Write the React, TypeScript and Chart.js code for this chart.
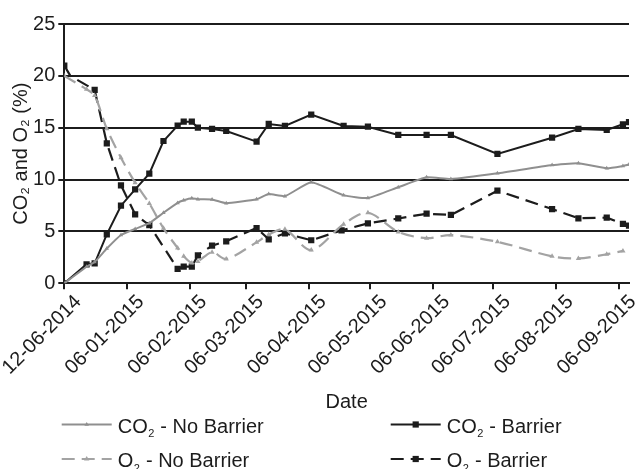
import React, { useEffect, useRef } from 'react';
import { Chart, registerables } from 'chart.js';

Chart.register(...registerables);

// ---- data (x = days since 12-06-2014 start tick) ----
const tickDays = [0, 31, 62, 90, 121, 151, 182, 212, 243, 274];
const tickLabels = [
  '12-06-2014', '06-01-2015', '06-02-2015', '06-03-2015', '06-04-2015',
  '06-05-2015', '06-06-2015', '06-07-2015', '06-08-2015', '06-09-2015',
];
const yTicksMax = 25;
const yTickStep = 5;
const xMaxDay = 279;

const co2Days = [0, 11, 15, 21, 28, 35, 42, 49, 56, 59, 63, 66, 73, 80, 95, 101, 109, 122, 138, 150, 165, 179, 191, 214, 241, 254, 268, 276, 279];
const co2NoBarrier = [0, 1.6, 2.05, 3.35, 4.66, 5.24, 5.8, 6.8, 7.75, 8.0, 8.2, 8.1, 8.08, 7.72, 8.1, 8.6, 8.4, 9.74, 8.5, 8.22, 9.26, 10.22, 10.05, 10.6, 11.4, 11.57, 11.09, 11.31, 11.45];
const co2Barrier = [0, 1.83, 1.93, 4.72, 7.48, 9.06, 10.57, 13.72, 15.2, 15.58, 15.58, 15.0, 14.88, 14.69, 13.66, 15.36, 15.17, 16.26, 15.17, 15.1, 14.3, 14.3, 14.3, 12.47, 14.04, 14.88, 14.78, 15.33, 15.55];

const o2NoBarrierDays = [0, 11, 15, 21, 28, 35, 42, 49, 56, 59, 63, 66, 73, 80, 95, 101, 109, 122, 138, 150, 165, 179, 191, 214, 241, 254, 268, 276];
const o2NoBarrier = [20.0, 18.7, 18.1, 14.9, 12.1, 9.7, 7.7, 5.3, 3.4, 2.6, 1.95, 2.1, 3.0, 2.35, 3.95, 4.7, 5.2, 3.2, 5.7, 6.8, 4.95, 4.35, 4.65, 4.0, 2.6, 2.4, 2.8, 3.12];

const o2BarrierDays = [0, 3, 15, 21, 28, 35, 42, 56, 59, 63, 66, 73, 80, 95, 101, 109, 122, 137, 150, 165, 179, 191, 214, 241, 254, 268, 276, 279];
const o2Barrier = [21.0, 20.0, 18.64, 13.5, 9.45, 6.65, 5.6, 1.4, 1.6, 1.6, 2.7, 3.63, 4.05, 5.33, 4.24, 4.82, 4.15, 5.1, 5.78, 6.25, 6.71, 6.59, 8.93, 7.16, 6.27, 6.33, 5.72, 5.55];
// readings without a visible marker in the original
const o2BarrierUnmarkedDays = [3];

const seriesLabels = ['CO₂ - No Barrier', 'CO₂ - Barrier', 'O₂ - No Barrier', 'O₂ - Barrier'];

// ---- styling ----
const W = 636;
const H = 469;
const FONT = '"Liberation Sans", Arial, Helvetica, sans-serif';
const INK = '#1c1c1c';
const GRAY = '#8f8f8f';
const LIGHT_GRAY = '#a3a3a3';
const AREA_LEFT = 64.3;
const AREA_TOP = 24;
const AREA_BOTTOM = 283.3;
const AREA_RIGHT = 629;
const LEGEND_COL_X = [61.7, 390.7];
const LEGEND_ROW_Y = [424.5, 459];
const LEGEND_LINE = 50;
const SQUARE_R = 4.4;

const toPoints = (days: number[], vals: number[]) => days.map((d, i) => ({ x: d, y: vals[i] }));

function drawMarker(ctx: CanvasRenderingContext2D, style: string, x: number, y: number, r: number, color: string) {
  ctx.fillStyle = color;
  ctx.beginPath();
  if (style === 'rect') {
    const s = r * Math.SQRT1_2;
    ctx.rect(x - s, y - s, 2 * s, 2 * s);
  } else {
    const h = r * 1.5;
    ctx.moveTo(x, y - h * 0.66);
    ctx.lineTo(x + r * 0.9, y + h * 0.34);
    ctx.lineTo(x - r * 0.9, y + h * 0.34);
    ctx.closePath();
  }
  ctx.fill();
}

const legendPlugin = {
  id: 'twoColumnLegend',
  afterDraw(chart: any) {
    const ctx: CanvasRenderingContext2D = chart.ctx;
    ctx.save();
    chart.data.datasets.forEach((ds: any, i: number) => {
      const x0 = LEGEND_COL_X[i % 2];
      const y = LEGEND_ROW_Y[Math.floor(i / 2)];
      ctx.strokeStyle = ds.borderColor;
      ctx.lineWidth = ds.borderWidth;
      ctx.setLineDash(ds.borderDash && ds.borderDash.length ? [13, 7] : []);
      ctx.beginPath();
      ctx.moveTo(x0, y);
      ctx.lineTo(x0 + LEGEND_LINE, y);
      ctx.stroke();
      ctx.setLineDash([]);
      drawMarker(ctx, ds.pointStyle, x0 + LEGEND_LINE / 2, y, ds.legendRadius, ds.pointBackgroundColor);
      const parts = String(ds.label).split('₂');
      let tx = x0 + LEGEND_LINE + 6;
      const base = y + 8;
      ctx.fillStyle = INK;
      ctx.textBaseline = 'alphabetic';
      ctx.textAlign = 'left';
      ctx.font = `20px ${FONT}`;
      ctx.fillText(parts[0], tx, base);
      tx += ctx.measureText(parts[0]).width + 0.5;
      ctx.font = `11px ${FONT}`;
      ctx.fillText('2', tx, base + 4.5);
      tx += ctx.measureText('2').width + 0.5;
      ctx.font = `20px ${FONT}`;
      ctx.fillText(parts[1] || '', tx, base);
    });
    ctx.restore();
  },
};

export default function App() {
  const ref = useRef<HTMLCanvasElement>(null);
  useEffect(() => {
    if (!ref.current) return;
    const chart = new Chart(ref.current, {
      type: 'line',
      data: {
        datasets: [
          {
            label: seriesLabels[0],
            data: toPoints(co2Days, co2NoBarrier),
            borderColor: GRAY,
            backgroundColor: GRAY,
            pointBackgroundColor: GRAY,
            pointBorderWidth: 0,
            borderWidth: 2,
            pointStyle: 'triangle',
            pointRadius: 2.5,
            legendRadius: 2.5,
            tension: 0.15,
          },
          {
            label: seriesLabels[1],
            data: toPoints(co2Days, co2Barrier),
            borderColor: INK,
            backgroundColor: INK,
            pointBackgroundColor: INK,
            pointBorderWidth: 0,
            borderWidth: 2,
            pointStyle: 'rect',
            pointRadius: SQUARE_R,
            legendRadius: SQUARE_R,
            tension: 0,
          },
          {
            label: seriesLabels[2],
            data: toPoints(o2NoBarrierDays, o2NoBarrier),
            borderColor: LIGHT_GRAY,
            backgroundColor: LIGHT_GRAY,
            pointBackgroundColor: LIGHT_GRAY,
            pointBorderWidth: 0,
            borderWidth: 2.2,
            borderDash: [13, 7],
            pointStyle: 'triangle',
            pointRadius: 3,
            legendRadius: 3,
            tension: 0.3,
          },
          {
            label: seriesLabels[3],
            data: toPoints(o2BarrierDays, o2Barrier),
            borderColor: INK,
            backgroundColor: INK,
            pointBackgroundColor: INK,
            pointBorderWidth: 0,
            borderWidth: 2.2,
            borderDash: [13, 7],
            pointStyle: 'rect',
            pointRadius: (c: any) =>
              o2BarrierUnmarkedDays.includes(o2BarrierDays[c.dataIndex]) ? 0 : SQUARE_R,
            legendRadius: SQUARE_R,
            tension: 0,
          },
        ],
      },
      options: {
        responsive: false,
        animation: false,
        events: [],
        layout: { padding: { top: AREA_TOP, right: W - AREA_RIGHT, left: 0, bottom: 0 } },
        plugins: {
          legend: { display: false },
          tooltip: { enabled: false },
        },
        scales: {
          x: {
            type: 'linear',
            min: 0,
            max: xMaxDay,
            afterBuildTicks: (scale: any) => {
              scale.ticks = tickDays.map((v) => ({ value: v }));
            },
            afterFit: (scale: any) => {
              scale.height = H - AREA_BOTTOM;
              scale.paddingLeft = 0;
              scale.paddingRight = 0;
            },
            ticks: {
              autoSkip: false,
              minRotation: 45,
              maxRotation: 45,
              labelOffset: 14,
              padding: 1,
              color: INK,
              font: { size: 20, family: FONT },
              callback: (_v: any, i: number) => tickLabels[i],
            },
            grid: {
              drawOnChartArea: false,
              drawTicks: true,
              tickLength: 6,
              color: INK,
              lineWidth: 2,
            },
            border: { display: true, color: INK, width: 2 },
            title: {
              display: true,
              text: 'Date',
              color: INK,
              font: { size: 20, family: FONT },
              padding: { top: 0, bottom: 54.5 },
            },
          },
          y: {
            type: 'linear',
            min: 0,
            max: yTicksMax,
            afterFit: (scale: any) => {
              scale.width = AREA_LEFT;
            },
            ticks: {
              stepSize: yTickStep,
              padding: 3,
              color: INK,
              font: { size: 20, family: FONT },
            },
            grid: {
              drawTicks: true,
              tickLength: 6,
              color: INK,
              lineWidth: 2,
            },
            border: { display: true, color: INK, width: 2 },
            title: {
              display: true,
              text: 'CO₂ and O₂ (%)',
              color: INK,
              font: { size: 20, family: FONT },
              padding: { top: 9, bottom: 0 },
            },
          },
        },
      },
      plugins: [legendPlugin],
    } as any);
    return () => chart.destroy();
  }, []);

  return (
    <div style={{ position: 'absolute', left: 0, top: 0, width: W, height: H, background: '#fff' }}>
      <canvas ref={ref} width={W} height={H} style={{ display: 'block', width: W, height: H }} />
    </div>
  );
}
